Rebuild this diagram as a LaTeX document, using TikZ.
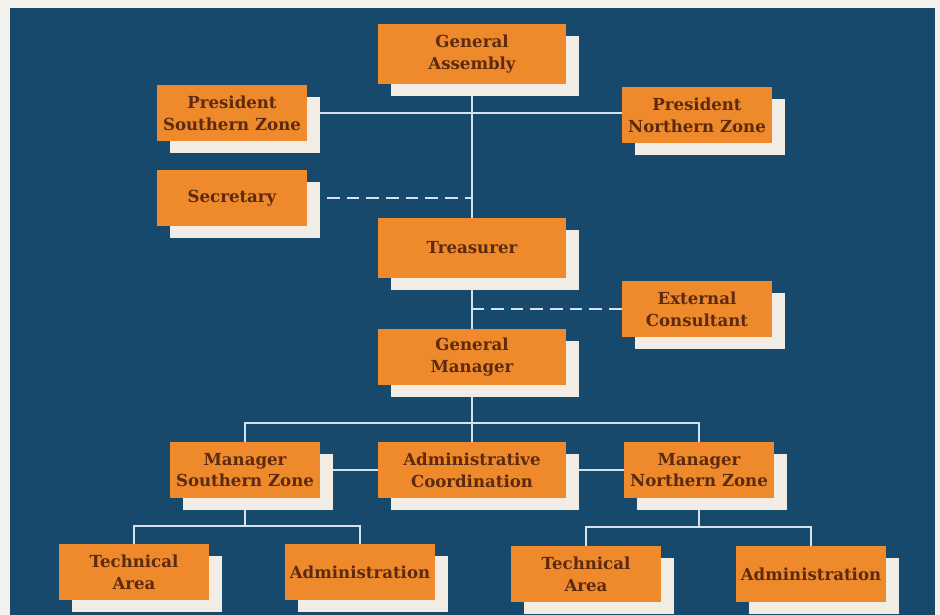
\documentclass[tikz,border=0pt]{standalone}
\usepackage{fontspec}
\setmainfont{DejaVu Serif}
\usepackage{tikz}
\usetikzlibrary{positioning,shadows,backgrounds}

\definecolor{paper}{HTML}{F3F1EC}
\definecolor{chartblue}{HTML}{17496C}
\definecolor{boxorange}{HTML}{EE8A2C}
\definecolor{boxtext}{HTML}{5C2A0E}
\definecolor{shadowcream}{HTML}{F2EDE4}
\definecolor{linkblue}{HTML}{D3E2EC}

\begin{document}
\begin{tikzpicture}[x=0.025cm, y=-0.025cm,
  post/.style={fill=boxorange, text=boxtext, align=center, inner sep=0pt,
    font=\bfseries\fontsize{11.8}{15.5}\selectfont,
    minimum width=3.75cm, minimum height=1.4cm,
    drop shadow={shadow xshift=0.32cm, shadow yshift=-0.3cm, fill=shadowcream, opacity=1}},
  widepost/.style={post, minimum width=4.7cm},
  link/.style={draw=linkblue, line width=0.9pt},
  dashlink/.style={link, dash pattern=on 9pt off 5pt}]

\useasboundingbox (0,0) rectangle (940,615);

% board
\node[widepost, minimum height=1.475cm] (assembly) at (472,54) {General\\Assembly};
\node[post] (pressouth) at (232,113) {President\\Southern Zone};
\node[post] (presnorth) at (697,115) {President\\Northern Zone};
\node[post] (secretary) at (232,198) {Secretary};
\node[widepost, minimum height=1.475cm] (treasurer) at (472,248) {Treasurer};
\node[post] (consultant) at (697,309) {External\\Consultant};

% management
\node[widepost] (genmanager) at (472,357) {General\\Manager};
\node[post] (mansouth) at (245,470) {Manager\\Southern Zone};
\node[widepost] (admincoord) at (472,470) {Administrative\\Coordination};
\node[post] (mannorth) at (699,470) {Manager\\Northern Zone};

\node[post] (techsouth) at (134,572) {Technical\\Area};
\node[post] (adminsouth) at (360,572) {Administration};
\node[post] (technorth) at (586,574) {Technical\\Area};
\node[post] (adminnorth) at (811,574) {Administration};

\coordinate (managersplit) at (472,423);
\coordinate (southsplit) at (245,526);
\coordinate (northsplit) at (699,527);

\begin{scope}[on background layer]
\fill[paper] (0,0) rectangle (940,615);
\fill[chartblue] (10,8) rectangle (935,615);

\draw[link] (assembly) -- (treasurer);
\draw[link] (pressouth) -- (pressouth -| presnorth);
\draw[dashlink] (secretary) -- (secretary -| assembly);
\draw[link] (treasurer) -- (genmanager);
\draw[dashlink] (consultant) -- (consultant -| treasurer);

\draw[link] (genmanager) -- (admincoord);
\draw[link] (mansouth) |- (managersplit) -| (mannorth);
\draw[link] (mansouth) -- (mannorth);

\draw[link] (mansouth) -- (southsplit);
\draw[link] (techsouth) |- (southsplit) -| (adminsouth);
\draw[link] (mannorth) -- (northsplit);
\draw[link] (technorth) |- (northsplit) -| (adminnorth);
\end{scope}

\end{tikzpicture}
\end{document}
